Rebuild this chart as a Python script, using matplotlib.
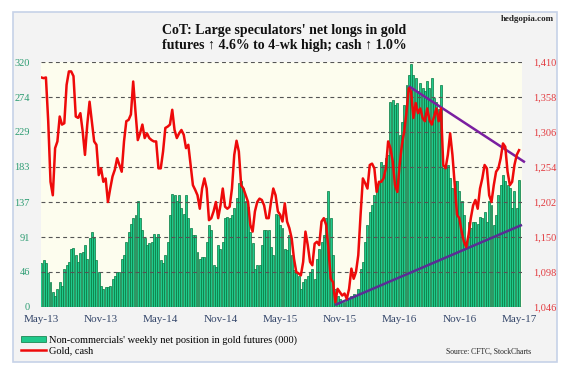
import matplotlib.pyplot as plt
import matplotlib.patches as mpatches
from matplotlib.lines import Line2D
import pandas as pd

# weekly non-commercial net longs in gold futures (000), from May-13
net_longs = [
    57, 61, 57, 44, 33, 20, 15, 24, 33, 28, 50, 55, 59, 76, 77, 68, 59, 70, 72, 81,
    63, 90, 98, 90, 61, 46, 28, 24, 26, 26, 28, 37, 41, 46,
    46, 63, 68, 85, 98, 109, 116, 120, 138, 116, 100, 90, 81, 83, 85, 96, 92, 96,
    61, 57, 68, 85, 120, 148, 146, 138, 146, 129, 122, 146, 116, 103, 94, 94, 72,
    63, 65, 65, 85, 107, 100, 55, 52, 81, 76, 85, 116, 118, 116, 120, 129, 142, 162,
    164, 155, 138, 131, 98, 83, 50, 55, 55, 81, 100, 100, 100, 79, 68, 122, 120,
    107, 103, 76, 74, 94, 68, 48, 44, 41, 24, 33, 37, 41, 46, 50, 37, 63, 76, 85, 94,
    116, 151, 116, 68, 24, 15, 11, 7, 7, 9, 11, 15, 17, 15, 24,
    50, 59, 85, 107, 124, 133, 146, 155, 164, 190, 186, 194, 199, 268, 270, 264, 266,
    225, 242, 264, 290, 303, 317, 303, 299, 282, 293, 286, 282, 295, 286, 299, 273,
    268, 258,
    290, 181, 181, 185, 168, 155, 164, 164, 151, 138, 120, 85, 111, 103, 111, 111,
    109, 118, 116, 124, 111, 138, 133, 107, 120, 146, 159, 172, 164, 159, 155, 129,
    151, 129, 166,
]

# weekly gold cash price
gold = [
    1387, 1386, 1387, 1322, 1232, 1212, 1282, 1292, 1329, 1317, 1319, 1376, 1396,
    1396, 1389, 1329, 1327, 1334, 1307, 1272, 1317, 1351, 1322, 1292, 1287, 1242,
    1252, 1232, 1237, 1202, 1222, 1240, 1250, 1267,
    1257, 1247, 1292, 1322, 1324, 1332, 1381, 1336, 1294, 1304, 1317, 1297, 1304,
    1297, 1294, 1292, 1292, 1252, 1252, 1277, 1312, 1314, 1317, 1339, 1309, 1297,
    1304, 1309, 1302, 1282, 1287, 1257, 1227, 1220, 1212,
    1192, 1222, 1237, 1222, 1175, 1178, 1188, 1202, 1178, 1197, 1222, 1195, 1192,
    1195, 1222, 1272, 1293, 1277, 1227, 1222, 1212, 1202, 1168, 1158, 1188, 1202,
    1207, 1205, 1197, 1178, 1178, 1202, 1222, 1212, 1188,
    1183, 1173, 1200, 1173, 1163, 1148, 1118, 1098, 1096, 1093, 1113, 1158, 1138,
    1113, 1108, 1140, 1143, 1138, 1173, 1178, 1168, 1133, 1088, 1083, 1053, 1073,
    1068, 1063, 1066, 1058, 1073, 1103, 1088, 1098, 1123,
    1183, 1237, 1230, 1222, 1257, 1259, 1252, 1217, 1232, 1232, 1237, 1252, 1292,
    1282, 1262, 1227, 1217, 1257, 1287, 1307, 1336, 1371, 1366, 1327, 1349, 1334,
    1341, 1327, 1322, 1341, 1324, 1317, 1329, 1341, 1322,
    1341, 1257, 1252, 1272, 1304, 1272, 1227, 1183, 1178, 1158, 1143, 1135, 1153,
    1178, 1197, 1205, 1192, 1222, 1237, 1257, 1252, 1212, 1202, 1227, 1247, 1252,
    1267, 1289, 1284, 1247, 1227, 1232, 1257, 1272, 1279,
]

left_ticks = [0, 46, 91, 137, 183, 229, 274, 320]
right_ticks = [1046, 1098, 1150, 1202, 1254, 1306, 1358, 1410]
x_labels = ['May-13', 'Nov-13', 'May-14', 'Nov-14', 'May-15',
            'Nov-15', 'May-16', 'Nov-16', 'May-17']

# trendlines drawn on gold (start, end)
upper_trend_dates = ['2016-05-31', '2017-05-20']
upper_trend_vals = [1374, 1261]
lower_trend_dates = ['2015-10-19', '2017-05-11']
lower_trend_vals = [1049, 1168]

dates = pd.date_range('2013-05-07', periods=len(net_longs), freq='7D')

serif = ['Liberation Serif', 'DejaVu Serif']
plt.rcParams['font.family'] = serif

fig = plt.figure(figsize=(5.71, 3.68), dpi=100)
W, H = 571, 368

# outer panel
fig.patches.append(mpatches.Rectangle(
    (13 / W, 1 - 362 / H), 544 / W, 350 / H, transform=fig.transFigure,
    facecolor='#f3f3f3', edgecolor='#c6d2e8', linewidth=1.2, zorder=-5))

ax = fig.add_axes([41 / W, 1 - 307 / H, 481 / W, 245 / H])
ax.set_facecolor('#fdfdee')
ax.bar(dates, net_longs, width=6, color='#1fc98b', edgecolor='#07773f',
       linewidth=0.5, align='center')
ax.set_ylim(0, 320)
ax.set_yticks(left_ticks)
ax.set_yticklabels([str(v) for v in left_ticks])
ax.tick_params(axis='y', length=0, pad=8, labelsize=7.5, labelcolor='#2c9c72')
ax.set_axisbelow(False)
ax.grid(axis='y', color='#555555', linestyle=(0, (3.5, 3)), linewidth=0.8)
ax.set_xlim(dates[0] - pd.Timedelta(days=1), dates[-1] + pd.Timedelta(days=9))

tick_pos = []
for lab in x_labels:
    m = pd.to_datetime(lab, format='%b-%y')
    sel = dates[(dates.year == m.year) & (dates.month == m.month)]
    tick_pos.append(sel[0])
ax.set_xticks(tick_pos)
ax.set_xticklabels(x_labels)
ax.tick_params(axis='x', length=0, pad=6, labelsize=8, labelcolor='#34466a')
for s in ax.spines.values():
    s.set_visible(False)

ax2 = ax.twinx()
ax2.plot(pd.to_datetime(lower_trend_dates), lower_trend_vals, color='#5a2d95',
         linewidth=1.8, clip_on=False, solid_capstyle='butt')
ax2.plot(pd.to_datetime(upper_trend_dates), upper_trend_vals, color='#7a1fa0',
         linewidth=1.8, clip_on=False, solid_capstyle='butt')
ax2.plot(dates, gold, color='#ee0a0a', linewidth=1.8)
ax2.set_ylim(1046, 1410)
ax2.set_yticks(right_ticks)
ax2.set_yticklabels([f'{v:,}' for v in right_ticks])
ax2.tick_params(axis='y', length=0, pad=8, labelsize=7.5, labelcolor='#e23a3f')
for s in ax2.spines.values():
    s.set_visible(False)

fig.text(284 / W, 1 - 38 / H,
         "CoT: Large speculators' net longs in gold\n"
         "futures \u2191 4.6% to 4-wk high; cash \u2191 1.0%",
         ha='center', va='center', fontsize=10, fontweight='bold',
         linespacing=1.2, color='#111111')
fig.text(554 / W, 1 - 19 / H, 'hedgopia.com', ha='right', va='center',
         fontsize=6.5, fontweight='bold', color='#222222')

handles = [mpatches.Rectangle((0, 0), 1, 1, facecolor='#1fc98b', edgecolor='#07773f', linewidth=0.5),
           Line2D([0], [0], color='#ee0a0a', linewidth=1.8)]
fig.legend(handles,
           ["Non-commercials' weekly net position in gold futures (000)", 'Gold, cash'],
           loc='upper left', bbox_to_anchor=(21 / W, 1 - 335 / H), frameon=False,
           fontsize=7.5, handlelength=2.4, handleheight=0.5, handletextpad=0.3,
           labelspacing=0.1, borderpad=0, borderaxespad=0)
fig.text(531 / W, 1 - 352 / H, 'Source: CFTC, StockCharts', ha='right',
         va='center', fontsize=5.5, color='#222222')

fig.savefig('out.png', dpi=100)
